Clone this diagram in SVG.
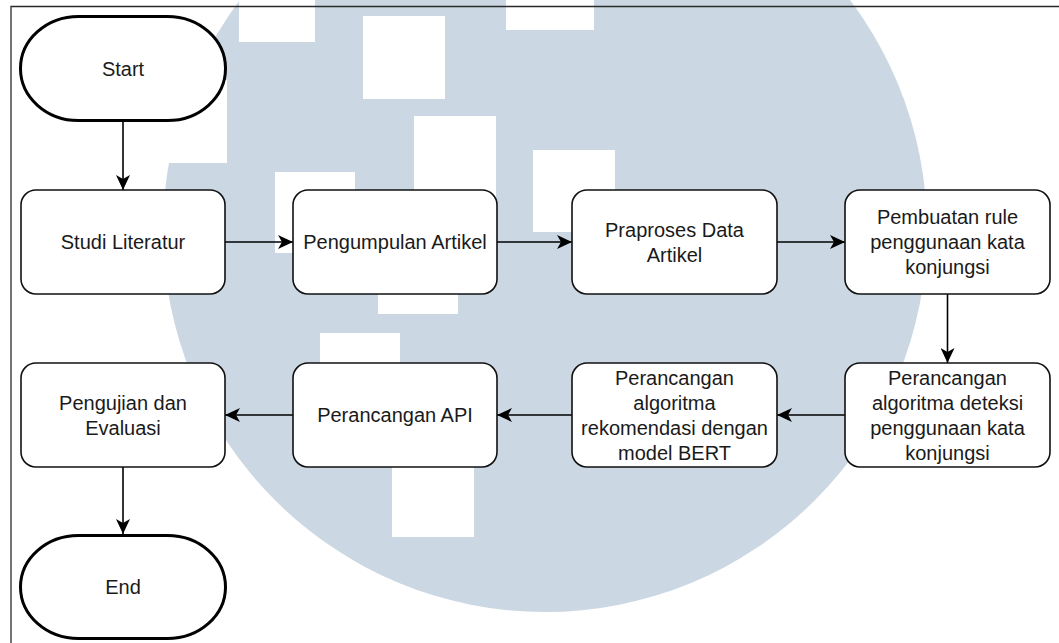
<svg xmlns="http://www.w3.org/2000/svg" width="1059" height="643" viewBox="0 0 1059 643">
<defs>
<style>
.bg{fill:#ffffff}
.wm{fill:#cbd8e3}
.wr{fill:#ffffff}
.frame{stroke:#2a2a2a;stroke-width:1.3;fill:none}
.box{fill:#ffffff;stroke:#111111;stroke-width:1.6}
.term{fill:#ffffff;stroke:#000000;stroke-width:3}
.lbl{font-family:"Liberation Sans",Arial,sans-serif;font-size:20px;fill:#1a1a1a;text-anchor:middle}
.edge{stroke:#000000;stroke-width:1.6;fill:none;marker-end:url(#arr)}
</style>
<marker id="arr" viewBox="0 0 15 14" refX="15" refY="7" markerWidth="15" markerHeight="14" markerUnits="userSpaceOnUse" orient="auto">
<path d="M0,0 L15,7 L0,14 L4,7 Z" fill="#000000"/>
</marker>
</defs>
<rect class="bg" x="0" y="0" width="1059" height="643"/>
<g id="watermark">
<circle class="wm" cx="545" cy="230" r="382"/>
<rect class="wr" x="239" y="0" width="76" height="42"/>
<rect class="wr" x="506" y="0" width="88" height="30"/>
<rect class="wr" x="363" y="16" width="82" height="83"/>
<rect class="wr" x="145" y="80" width="82" height="83"/>
<rect class="wr" x="414" y="116" width="82" height="116"/>
<rect class="wr" x="533" y="150" width="82" height="82"/>
<rect class="wr" x="275" y="172" width="80" height="81"/>
<rect class="wr" x="378" y="232" width="80" height="82"/>
<rect class="wr" x="320" y="333" width="80" height="82"/>
<rect class="wr" x="392" y="455" width="82" height="82"/>
</g>
<path class="frame" d="M11,643 L11,6.5 L1059,6.5"/>
<g id="connectors">
<line class="edge" x1="123" y1="122" x2="123" y2="190"/>
<line class="edge" x1="225" y1="242" x2="293" y2="242"/>
<line class="edge" x1="497" y1="242" x2="572" y2="242"/>
<line class="edge" x1="777" y1="242" x2="845" y2="242"/>
<line class="edge" x1="947.5" y1="294" x2="947.5" y2="363"/>
<line class="edge" x1="845" y1="415" x2="777" y2="415"/>
<line class="edge" x1="572" y1="415" x2="497" y2="415"/>
<line class="edge" x1="293" y1="415" x2="225" y2="415"/>
<line class="edge" x1="123" y1="467" x2="123" y2="534"/>
</g>
<g id="start">
<rect class="term" x="20.5" y="16.5" width="205" height="104" rx="58" ry="52"/>
<text class="lbl" x="123" y="76">Start</text>
</g>
<g id="studi">
<rect class="box" x="21" y="190" width="204" height="104" rx="15" ry="15"/>
<text class="lbl" x="123" y="249">Studi Literatur</text>
</g>
<g id="pengumpulan">
<rect class="box" x="293" y="190" width="204" height="104" rx="15" ry="15"/>
<text class="lbl" x="395" y="249">Pengumpulan Artikel</text>
</g>
<g id="praproses">
<rect class="box" x="572" y="190" width="205" height="104" rx="15" ry="15"/>
<text class="lbl" x="674.5" y="236.5">Praproses Data</text>
<text class="lbl" x="674.5" y="261.5">Artikel</text>
</g>
<g id="pembuatan">
<rect class="box" x="845" y="190" width="205" height="104" rx="15" ry="15"/>
<text class="lbl" x="947.5" y="223.5">Pembuatan rule</text>
<text class="lbl" x="947.5" y="248.5">penggunaan kata</text>
<text class="lbl" x="947.5" y="273.5">konjungsi</text>
</g>
<g id="deteksi">
<rect class="box" x="845" y="363" width="205" height="104" rx="15" ry="15"/>
<text class="lbl" x="947.5" y="384.5">Perancangan</text>
<text class="lbl" x="947.5" y="409.5">algoritma deteksi</text>
<text class="lbl" x="947.5" y="434.5">penggunaan kata</text>
<text class="lbl" x="947.5" y="459.5">konjungsi</text>
</g>
<g id="rekomendasi">
<rect class="box" x="572" y="363" width="205" height="104" rx="15" ry="15"/>
<text class="lbl" x="674.5" y="384.5">Perancangan</text>
<text class="lbl" x="674.5" y="409.5">algoritma</text>
<text class="lbl" x="674.5" y="434.5">rekomendasi dengan</text>
<text class="lbl" x="674.5" y="459.5">model BERT</text>
</g>
<g id="api">
<rect class="box" x="293" y="363" width="204" height="104" rx="15" ry="15"/>
<text class="lbl" x="395" y="422">Perancangan API</text>
</g>
<g id="pengujian">
<rect class="box" x="21" y="363" width="204" height="104" rx="15" ry="15"/>
<text class="lbl" x="123" y="409.5">Pengujian dan</text>
<text class="lbl" x="123" y="434.5">Evaluasi</text>
</g>
<g id="end">
<rect class="term" x="20.5" y="535.5" width="205" height="103" rx="58" ry="51.5"/>
<text class="lbl" x="123" y="594">End</text>
</g>
</svg>
